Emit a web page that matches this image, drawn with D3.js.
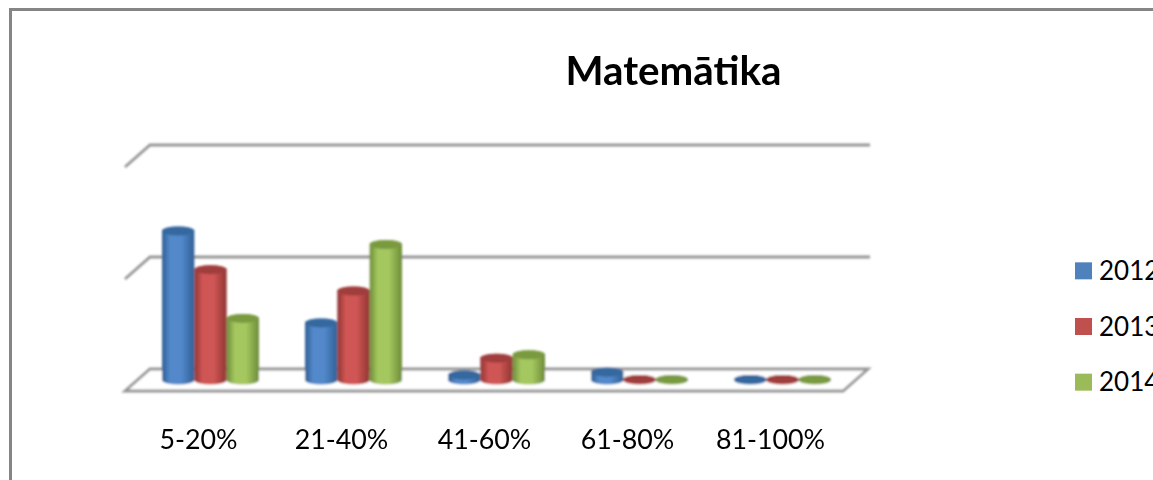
<!DOCTYPE html>
<html>
<head>
<meta charset="utf-8">
<script src="https://cdn.jsdelivr.net/npm/d3@7"></script>
<style>
  html, body { margin: 0; padding: 0; background: #fff; overflow: hidden; }
  text { font-family: Lato, "Open Sans", sans-serif; fill: #000; }
</style>
</head>
<body>
<div id="chart"></div>
<script>
// values
var categories = ["5-20%", "21-40%", "41-60%", "61-80%", "81-100%"];
var years = ["2012", "2013", "2014"];
var values2012 = [26.6, 10.2, 0.9, 1.4, 0.1];
var values2013 = [19.7, 15.9, 3.9, 0.1, 0.1];
var values2014 = [11.0, 24.2, 4.5, 0.1, 0.1];
var gridTicks = [0, 20, 40];

var seriesValues = [values2012, values2013, values2014];
var colors = ["#5289ca", "#cf5654", "#a4c75e"];
var legendColors = ["#4f81bd", "#c0504d", "#9bbb59"];
var darkColors = ["#2f5f96", "#8f3432", "#6f8c3a"];
var topColors = ["#34689f", "#a03e3c", "#7a9a3f"];

var width = 1153, height = 480;

var svg = d3.select("#chart")
    .append("svg")
    .attr("width", width)
    .attr("height", height)
    .style("display", "block");

var defs = svg.append("defs");

// the reference is a soft, upscaled picture
defs.append("filter").attr("id", "soft")
    .append("feGaussianBlur").attr("stdDeviation", 1);
defs.append("filter").attr("id", "softText")
    .append("feGaussianBlur").attr("stdDeviation", 0.4);

// horizontal shading that makes the cylinders round
years.forEach(function(year, i) {
    var grad = defs.append("linearGradient").attr("id", "cyl" + i);
    grad.append("stop").attr("offset", "0%").attr("stop-color", darkColors[i]);
    grad.append("stop").attr("offset", "25%").attr("stop-color", colors[i]);
    grad.append("stop").attr("offset", "60%").attr("stop-color", colors[i]);
    grad.append("stop").attr("offset", "100%").attr("stop-color", darkColors[i]);
});

// outer frame, runs off the right and bottom of the window
svg.append("path")
    .attr("d", "M10.5,480 V9.5 H1153")
    .attr("fill", "none")
    .attr("stroke", "#858585")
    .attr("stroke-width", 3);

// scales: y is on the back wall, x on the floor's middle line
var y = d3.scaleLinear().domain([0, 40]).range([369, 145]);
var x0 = d3.scaleBand().domain(categories).range([139.5, 854.5]).paddingInner(0).paddingOuter(0);
var x1 = d3.scaleBand().domain(years).range([22.5, 119.5]);

var depthX = 25, depthY = 22;
var barShiftY = 11;

var plot = svg.append("g").attr("filter", "url(#soft)");

// floor
plot.append("path")
    .attr("d", "M125,391 L" + (125 + depthX) + "," + y(0) + " H868 L843,391 Z")
    .attr("fill", "#fff")
    .attr("stroke", "#959595")
    .attr("stroke-width", 2.8);

// gridlines with the short side wall tick
var grid = plot.selectAll(".grid").data(gridTicks.slice(1)).enter().append("g");
grid.append("path")
    .attr("d", function(d) {
        return "M125," + (y(d) + depthY) + " L150," + y(d) + " H870";
    })
    .attr("fill", "none")
    .attr("stroke", "#959595")
    .attr("stroke-width", 2.8);

// cylinders
function cylinder(x, w, top, base) {
    var rx = w / 2, ry = 4.5;
    return "M" + x + "," + top +
        " V" + base +
        " A" + rx + "," + ry + " 0 0 0 " + (x + w) + "," + base +
        " V" + top +
        " A" + rx + "," + ry + " 0 0 0 " + x + "," + top + " Z";
}

seriesValues.forEach(function(vals, s) {
    var g = plot.append("g");
    g.selectAll("path")
        .data(vals)
        .enter()
        .append("path")
        .attr("fill", "url(#cyl" + s + ")")
        .attr("d", function(d, i) {
            var bx = x0(categories[i]) + x1(years[s]);
            return cylinder(bx, x1.bandwidth(), y(d) + barShiftY, y(0) + barShiftY);
        });
    g.selectAll("ellipse")
        .data(vals)
        .enter()
        .append("ellipse")
        .attr("fill", topColors[s])
        .attr("cx", function(d, i) { return x0(categories[i]) + x1(years[s]) + x1.bandwidth() / 2; })
        .attr("cy", function(d) { return y(d) + barShiftY; })
        .attr("rx", x1.bandwidth() / 2)
        .attr("ry", 4.5);
});

// category labels
var axisScale = d3.scaleBand().domain(categories).range([127, 842]);
svg.append("g")
    .attr("transform", "translate(0,449)")
    .attr("filter", "url(#softText)")
    .call(d3.axisBottom(axisScale).tickSize(0).tickPadding(0))
    .call(function(g) { g.select(".domain").remove(); })
    .selectAll("text")
    .attr("y", 0)
    .attr("dy", 0)
    .attr("font-family", "Lato, 'Open Sans', sans-serif")
    .attr("font-size", 26.8);

// title
svg.append("text")
    .attr("x", 673.5)
    .attr("y", 85)
    .attr("text-anchor", "middle")
    .attr("font-size", 40.3)
    .attr("font-weight", 700)
    .attr("filter", "url(#softText)")
    .text("Matemātika");

// legend, clipped by the window edge as in the reference
var legendY = d3.scaleBand().domain(years).range([243, 410]);
var legend = svg.selectAll(".legend").data(years).enter().append("g");
legend.append("rect")
    .attr("x", 1075)
    .attr("y", function(d) { return legendY(d) + legendY.bandwidth() / 2 - 8.5; })
    .attr("width", 17)
    .attr("height", 17)
    .attr("fill", function(d, i) { return legendColors[i]; });
legend.append("text")
    .attr("x", 1099)
    .attr("y", function(d) { return legendY(d) + legendY.bandwidth() / 2 + 9; })
    .attr("font-size", 26)
    .text(function(d) { return d; });
</script>
</body>
</html>
